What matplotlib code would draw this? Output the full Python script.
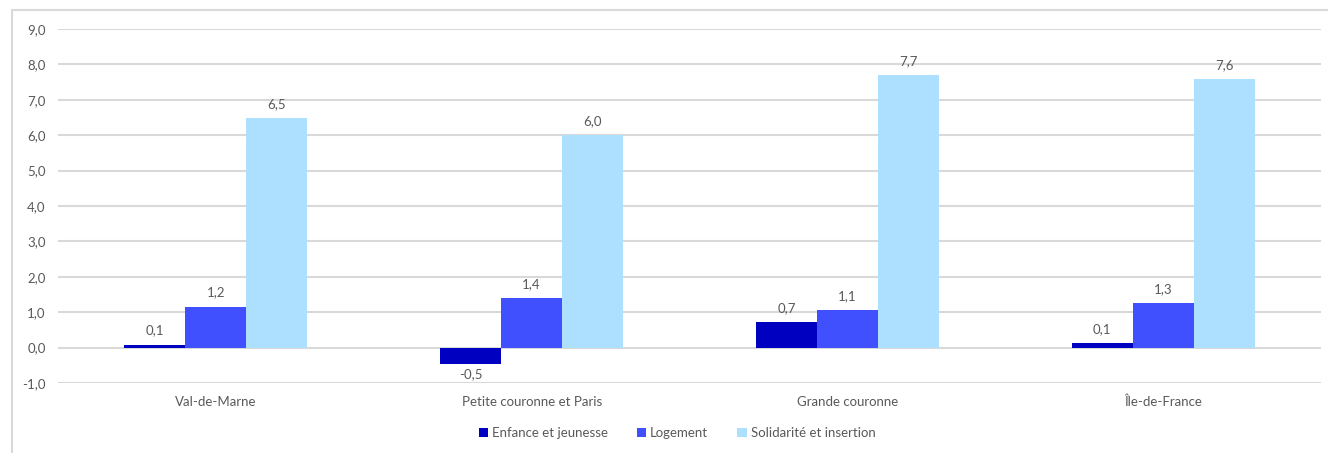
import matplotlib
matplotlib.use("Agg")
import matplotlib.pyplot as plt
import numpy as np
from matplotlib.patches import Rectangle

categories = ["Val-de-Marne", "Petite couronne et Paris", "Grande couronne", "Île-de-France"]
series_names = ["Enfance et jeunesse", "Logement", "Solidarité et insertion"]
enfance = [0.08, -0.47, 0.72, 0.13]
logement = [1.16, 1.40, 1.06, 1.26]
solidarite = [6.48, 6.00, 7.70, 7.58]
colors = ["#0000C0", "#4050FF", "#ADDFFF"]

plt.rcParams["font.family"] = ["Lato", "DejaVu Sans"]
text_color = "#595959"

fig = plt.figure(figsize=(13.28, 4.53), dpi=100)
ax = fig.add_axes([58 / 1328, 70 / 453, 1263 / 1328, 354 / 453])

# outer frame like the Excel chart area
fig.patches.append(Rectangle((12 / 1328, -0.05), 1.2, 1 - 10 / 453 + 0.05,
                             transform=fig.transFigure, fill=False,
                             edgecolor="#D9D9D9", linewidth=1.5))

x = np.arange(len(categories))
width = 0.193
for i, (vals, name, col) in enumerate(zip([enfance, logement, solidarite], series_names, colors)):
    bars = ax.bar(x + (i - 1) * width, vals, width, color=col, label=name, zorder=3)
    for b, v in zip(bars, vals):
        lbl = f"{v:.1f}".replace(".", ",")
        if v >= 0:
            ax.annotate(lbl, (b.get_x() + b.get_width() / 2, v), xytext=(0, 6),
                        textcoords="offset points", ha="center", va="bottom",
                        fontsize=9.5, color=text_color)
        else:
            ax.annotate(lbl, (b.get_x() + b.get_width() / 2, v), xytext=(0, -3),
                        textcoords="offset points", ha="center", va="top",
                        fontsize=9.5, color=text_color)

ax.set_xlim(-0.5, len(categories) - 0.5)
ax.set_ylim(-1, 9)
ax.set_yticks(np.arange(-1, 10, 1))
ax.set_yticklabels([f"{t:.1f}".replace(".", ",") for t in np.arange(-1, 10, 1)])
ax.set_xticks(x)
ax.set_xticklabels(categories)
ax.tick_params(axis="both", length=0, labelsize=9.5, labelcolor=text_color)
ax.tick_params(axis="y", pad=9)
ax.tick_params(axis="x", pad=9)
ax.yaxis.grid(True, color="#D9D9D9", linewidth=1.5, zorder=0)
ax.set_axisbelow(True)
for s in ax.spines.values():
    s.set_visible(False)

fig.legend(loc="center", bbox_to_anchor=(677 / 1328, 1 - 433 / 453), ncol=3,
           frameon=False, fontsize=9.5, handlelength=0.7, handleheight=0.7,
           handletextpad=0.3, columnspacing=2.2, labelcolor=text_color)

fig.savefig("out.png", dpi=100)
